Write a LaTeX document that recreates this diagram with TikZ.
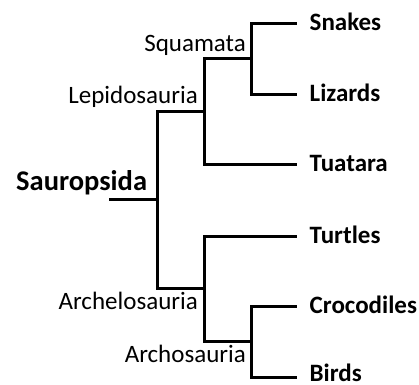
\documentclass[tikz,border=0pt]{standalone}
\usepackage{fontspec}
\setmainfont{Carlito}
\begin{document}
\begin{tikzpicture}[x=1bp,y=-1bp,
  branch/.style={line width=3bp, line join=miter},
  leaf/.style={anchor=west, font=\fontsize{25bp}{30bp}\selectfont\bfseries,
    inner xsep=12.5bp, inner ysep=0pt, text height=15.5bp, text depth=0pt},
  clade/.style={anchor=base east, font=\fontsize{25bp}{30bp}\selectfont, inner sep=0pt},
  rootlabel/.style={anchor=base west, font=\fontsize{28.5bp}{34bp}\selectfont\bfseries, inner sep=0pt}]
\useasboundingbox (0,0) rectangle (419,385);
% branching points
\coordinate (r0) at (109,199);
\coordinate (n1) at (157,199);
\coordinate (lep) at (204,111);
\coordinate (squ) at (251,58);
\coordinate (arc) at (204,288);
\coordinate (aro) at (251,341);
% leaves
\node[leaf] (snakes) at (297,23) {Snakes};
\node[leaf] (lizards) at (297,94) {Lizards};
\node[leaf] (tuatara) at (297,164) {Tuatara};
\node[leaf] (turtles) at (297,236) {Turtles};
\node[leaf] (crocs) at (297,306) {Crocodiles};
\node[leaf, text height=9bp] (birds) at (297,377) {Birds};
% clade labels
\node[rootlabel] (sauropsida) at (16,190.5) {Sauropsida};
\node[clade] (lepl) at (198,103) {Lepidosauria};
\node[clade] (squl) at (246,51) {Squamata};
\node[clade] (arcl) at (198,309) {Archelosauria};
\node[clade] (arol) at (246,362) {Archosauria};
% branches
\draw[branch] (r0) -- (n1);
\draw[branch] (n1) |- (lep);
\draw[branch] (n1) |- (arc);
\draw[branch] (lep) |- (squ);
\draw[branch] (lep) |- (tuatara);
\draw[branch] (squ) |- (snakes);
\draw[branch] (squ) |- (lizards);
\draw[branch] (arc) |- (turtles);
\draw[branch] (arc) |- (aro);
\draw[branch] (aro) |- (crocs);
\draw[branch] (aro) |- (birds);
\end{tikzpicture}
\end{document}
